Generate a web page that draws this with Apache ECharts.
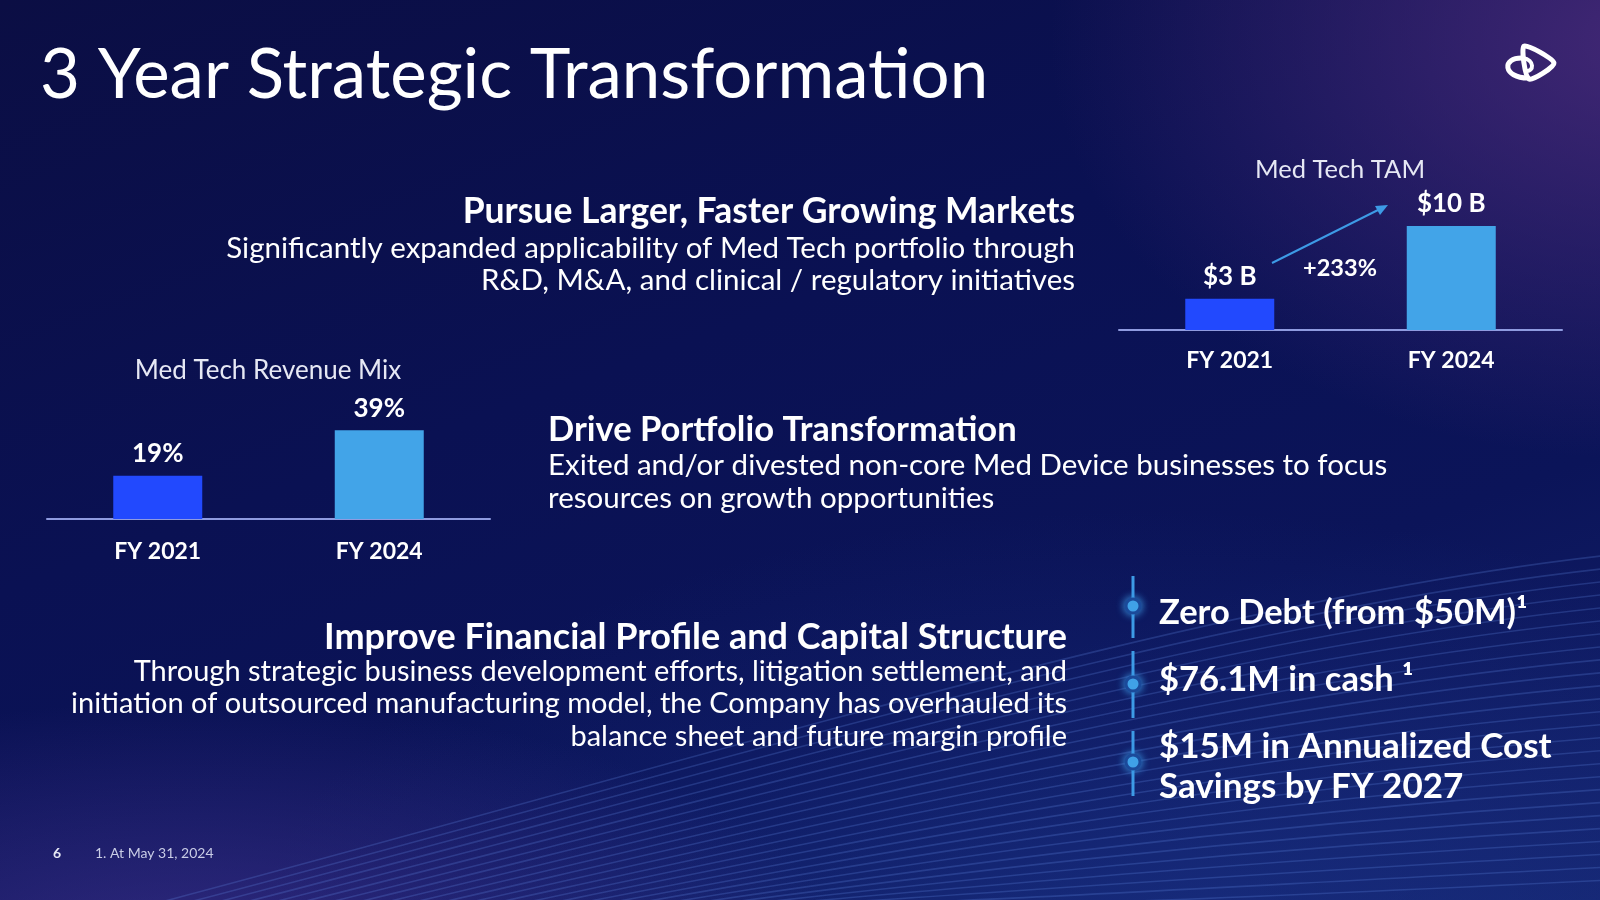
<!DOCTYPE html>
<html>
<head>
<meta charset="utf-8">
<script src="https://cdn.jsdelivr.net/npm/echarts@6/dist/echarts.min.js"></script>
<style>
html,body{margin:0;padding:0;width:1600px;height:900px;overflow:hidden;}
body{background:
 radial-gradient(ellipse 600px 420px at 1650px 40px, rgba(80,45,125,0.8), rgba(80,45,125,0) 100%),
 radial-gradient(ellipse 650px 260px at 200px 960px, rgba(80,60,160,0.55), rgba(80,60,160,0) 100%),
 radial-gradient(ellipse 900px 450px at 1150px 960px, rgba(30,60,150,0.45), rgba(30,60,150,0) 100%),
 linear-gradient(160deg, #0b0e44 0%, #0a1153 40%, #0b1459 70%, #14236e 100%);}
#c{width:1600px;height:900px;}
</style>
</head>
<body>
<div id="c"></div>
<script>
// ---- data ----
const categories = ['FY 2021', 'FY 2024'];
const tamValues = [3, 10];          // Med Tech TAM, $ billions
const mixValues = [19, 39];         // Med Tech revenue mix, %
const tamGrowthLabel = '+233%';
const barColors = ['#2249fe', '#42a4e8'];

const FONT = 'Lato, "Open Sans", sans-serif';
const chart = echarts.init(document.getElementById('c'), null, {renderer: 'canvas'});

function txt(text, x, y, size, weight, align, color) {
  return {type: 'text', silent: true, style: {
    text: text, x: x, y: y, fill: color || '#ffffff',
    font: (weight || 'normal') + ' ' + size + 'px ' + FONT,
    textAlign: align || 'left', textVerticalAlign: 'middle',
    align: align || 'left', verticalAlign: 'middle'
  }};
}

// decorative wave lines (background)
const waves = [];
for (let i = 0; i < 26; i++) {
  waves.push({type: 'bezierCurve', silent: true, z: -10, shape: {
    x1: 150 + i * 28, y1: 905,
    cpx1: 700 + i * 10, cpy1: 760 + i * 6,
    cpx2: 1200, cpy2: 600 + i * 12,
    x2: 1610, y2: 555 + i * 13
  }, style: {stroke: 'rgba(100,140,230,0.25)', lineWidth: 1.6, fill: null}});
}

const graphics = waves.concat([
  txt('3 Year Strategic Transformation', 40, 76, 69, 'normal', 'left'),
  txt('Pursue Larger, Faster Growing Markets', 1075, 212, 35.5, 'bold', 'right'),
  txt('Significantly expanded applicability of Med Tech portfolio through', 1075, 248, 29.5, 'normal', 'right'),
  txt('R&D, M&A, and clinical / regulatory initiatives', 1075, 280, 29.5, 'normal', 'right'),
  txt('Drive Portfolio Transformation', 548, 430, 34.5, 'bold', 'left'),
  txt('Exited and/or divested non-core Med Device businesses to focus', 548, 465, 29.5, 'normal', 'left'),
  txt('resources on growth opportunities', 548, 498, 29.5, 'normal', 'left'),
  txt('Improve Financial Profile and Capital Structure', 1067, 637, 36, 'bold', 'right'),
  txt('Through strategic business development efforts, litigation settlement, and', 1067, 672, 29, 'normal', 'right'),
  txt('initiation of outsourced manufacturing model, the Company has overhauled its', 1067, 704, 29, 'normal', 'right'),
  txt('balance sheet and future margin profile', 1067, 737, 29, 'normal', 'right'),
  txt('Med Tech TAM', 1340, 170, 25.5, 'normal', 'center', '#e6e8f4'),
  txt('Med Tech Revenue Mix', 268, 371, 26, 'normal', 'center', '#e6e8f4'),
  txt(tamGrowthLabel, 1340, 268, 23.5, 'bold', 'center'),
  // arrow
  {type: 'line', silent: true, shape: {x1: 1272, y1: 263, x2: 1380, y2: 209},
   style: {stroke: '#3d9be6', lineWidth: 2}},
  {type: 'polygon', silent: true, shape: {points: [[1388, 205], [1375, 206], [1380, 215]]},
   style: {fill: '#3d9be6'}},
  // bullets
  {type: 'line', silent: true, shape: {x1: 1133, y1: 576, x2: 1133, y2: 638}, style: {stroke: '#3d9be6', lineWidth: 3}},
  {type: 'line', silent: true, shape: {x1: 1133, y1: 651, x2: 1133, y2: 718}, style: {stroke: '#3d9be6', lineWidth: 3}},
  {type: 'line', silent: true, shape: {x1: 1133, y1: 731, x2: 1133, y2: 796}, style: {stroke: '#3d9be6', lineWidth: 3}},
  {type: 'circle', silent: true, shape: {cx: 1133, cy: 606, r: 7}, style: {fill: '#42a4e8', stroke: '#1b4a9a', lineWidth: 3, shadowBlur: 8, shadowColor: '#3d9be6'}},
  {type: 'circle', silent: true, shape: {cx: 1133, cy: 684, r: 7}, style: {fill: '#42a4e8', stroke: '#1b4a9a', lineWidth: 3, shadowBlur: 8, shadowColor: '#3d9be6'}},
  {type: 'circle', silent: true, shape: {cx: 1133, cy: 762, r: 7}, style: {fill: '#42a4e8', stroke: '#1b4a9a', lineWidth: 3, shadowBlur: 8, shadowColor: '#3d9be6'}},
  txt('Zero Debt (from $50M)¹', 1159, 613, 34.5, 'bold', 'left'),
  txt('$76.1M in cash ¹', 1159, 680, 34.5, 'bold', 'left'),
  txt('$15M in Annualized Cost', 1159, 747, 35, 'bold', 'left'),
  txt('Savings by FY 2027', 1159, 787, 35, 'bold', 'left'),
  // footer
  txt('6', 57, 853, 14, 'bold', 'center', '#e6e8f4'),
  txt('1. At May 31, 2024', 95, 853, 14, 'normal', 'left', '#c9cde6'),
  // logo
  {type: 'polygon', silent: true, shape: {points: [[1524, 46], [1554, 63], [1529, 79]], smooth: 0.25},
   style: {fill: null, stroke: '#ffffff', lineWidth: 5, lineJoin: 'round'}},
  {type: 'bezierCurve', silent: true, shape: {x1: 1528, y1: 78, cpx1: 1503, cpy1: 78, cpx2: 1501, cpy2: 57, x2: 1523, y2: 58},
   style: {fill: null, stroke: '#ffffff', lineWidth: 5, lineCap: 'round'}},
  {type: 'bezierCurve', silent: true, shape: {x1: 1523, y1: 58, cpx1: 1535, cpy1: 60, cpx2: 1534, cpy2: 72, x2: 1526, y2: 71},
   style: {fill: null, stroke: '#ffffff', lineWidth: 4, lineCap: 'round'}}
]);

const axisCommon = {
  type: 'category',
  axisLine: {lineStyle: {color: '#8f9be0', width: 2}},
  axisTick: {show: false},
  axisLabel: {color: '#ffffff', fontFamily: FONT, fontWeight: 'bold', fontSize: 23},
  splitLine: {show: false}
};
const yCommon = {type: 'value', min: 0, show: false, splitLine: {show: false}};

chart.setOption({
  animation: false,
  backgroundColor: 'transparent',
  grid: [
    {left: 1119, width: 443, top: 226, height: 104},
    {left: 47, width: 443, top: 428, height: 91}
  ],
  xAxis: [
    Object.assign({}, axisCommon, {gridIndex: 0, data: categories, axisLabel: Object.assign({}, axisCommon.axisLabel, {margin: 19})}),
    Object.assign({}, axisCommon, {gridIndex: 1, data: categories, axisLabel: Object.assign({}, axisCommon.axisLabel, {margin: 21})})
  ],
  yAxis: [
    Object.assign({}, yCommon, {gridIndex: 0, max: 10}),
    Object.assign({}, yCommon, {gridIndex: 1, max: 40})
  ],
  series: [
    {type: 'bar', xAxisIndex: 0, yAxisIndex: 0, barWidth: 89,
     data: tamValues.map((v, i) => ({value: v, itemStyle: {color: barColors[i]}})),
     label: {show: true, position: 'top', distance: 9, color: '#ffffff', fontFamily: FONT, fontWeight: 'bold', fontSize: 26,
             formatter: p => '$' + p.value + ' B'}},
    {type: 'bar', xAxisIndex: 1, yAxisIndex: 1, barWidth: 89,
     data: mixValues.map((v, i) => ({value: v, itemStyle: {color: barColors[i]}})),
     label: {show: true, position: 'top', distance: 9, color: '#ffffff', fontFamily: FONT, fontWeight: 'bold', fontSize: 26,
             formatter: p => p.value + '%'}}
  ],
  graphic: {elements: graphics}
});
</script>
</body>
</html>
